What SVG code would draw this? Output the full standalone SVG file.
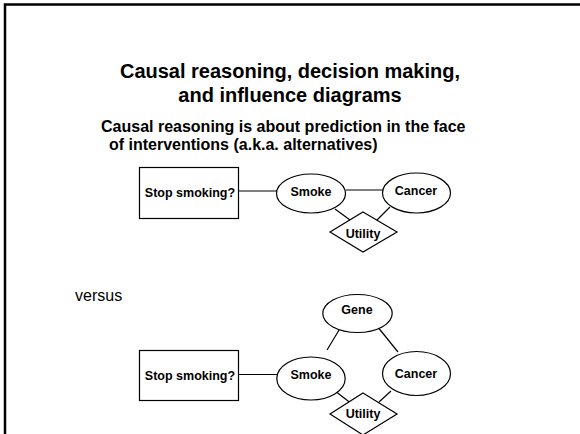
<svg xmlns="http://www.w3.org/2000/svg" width="580" height="434" viewBox="0 0 580 434">
  <style>
    .shape { fill: #ffffff; stroke: #000000; stroke-width: 1.2; }
    .edge { stroke: #000000; stroke-width: 1.2; fill: none; }
    .lbl { font-family: "Liberation Sans", Arial, sans-serif; font-weight: bold; font-size: 12.5px; fill: #000000; text-anchor: middle; }
    .title { font-family: "Liberation Sans", Arial, sans-serif; font-weight: bold; font-size: 20px; fill: #000000; text-anchor: middle; }
    .sub { font-family: "Liberation Sans", Arial, sans-serif; font-weight: bold; font-size: 16px; fill: #000000; }
    .plain { font-family: "Liberation Sans", Arial, sans-serif; font-size: 16px; fill: #000000; }
  </style>
  <rect width="580" height="434" fill="#ffffff"/>
  <!-- slide frame (only top and left edges fall inside the view) -->
  <rect x="5" y="4.5" width="640" height="500" fill="none" stroke="#000000" stroke-width="2.5"/>

  <!-- headings -->
  <text class="title" x="290" y="78">Causal reasoning, decision making,</text>
  <text class="title" x="290" y="102">and influence diagrams</text>
  <text class="sub" x="101" y="132">Causal reasoning is about prediction in the face</text>
  <text class="sub" x="109" y="150">of interventions (a.k.a. alternatives)</text>
  <text class="plain" x="75" y="301">versus</text>

  <!-- connectors -->
  <g id="connectors">
    <!-- first diagram -->
    <line class="edge" x1="238" y1="191" x2="277" y2="191"/>
    <line class="edge" x1="346" y1="190" x2="383" y2="190"/>
    <line class="edge" x1="335" y1="209" x2="350" y2="220"/>
    <line class="edge" x1="390" y1="207" x2="376" y2="221"/>
    <!-- second diagram -->
    <line class="edge" x1="238" y1="374.5" x2="277" y2="374.5"/>
    <line class="edge" x1="340" y1="328.5" x2="327" y2="350"/>
    <line class="edge" x1="379" y1="328.5" x2="398" y2="352"/>
    <line class="edge" x1="337" y1="392.5" x2="350" y2="402.5"/>
    <line class="edge" x1="391" y1="391" x2="379" y2="402"/>
  </g>

  <!-- first diagram -->
  <g id="decision1">
    <rect class="shape" x="139.5" y="167.5" width="99" height="51"/>
    <text class="lbl" x="190" y="197">Stop smoking?</text>
  </g>
  <g id="smoke1">
    <ellipse class="shape" cx="311" cy="193.5" rx="34.5" ry="19.5"/>
    <text class="lbl" x="311" y="196">Smoke</text>
  </g>
  <g id="cancer1">
    <ellipse class="shape" cx="416.5" cy="193" rx="34" ry="20"/>
    <text class="lbl" x="416" y="195">Cancer</text>
  </g>
  <g id="utility1">
    <polygon class="shape" points="363,212 397,232 363,252 330,232"/>
    <text class="lbl" x="363" y="237.5">Utility</text>
  </g>

  <!-- second diagram -->
  <g id="gene2">
    <ellipse class="shape" cx="357.5" cy="313.5" rx="34.7" ry="19"/>
    <text class="lbl" x="357" y="313.5">Gene</text>
  </g>
  <g id="decision2">
    <rect class="shape" x="139.5" y="350.5" width="99" height="50"/>
    <text class="lbl" x="190" y="379.5">Stop smoking?</text>
  </g>
  <g id="smoke2">
    <ellipse class="shape" cx="311" cy="378.5" rx="34.2" ry="21.5"/>
    <text class="lbl" x="311" y="378.5">Smoke</text>
  </g>
  <g id="cancer2">
    <ellipse class="shape" cx="416.5" cy="373.5" rx="34" ry="22"/>
    <text class="lbl" x="416" y="378">Cancer</text>
  </g>
  <g id="utility2">
    <polygon class="shape" points="363,393 397,414 363,435 330,414"/>
    <text class="lbl" x="363" y="418">Utility</text>
  </g>
</svg>
